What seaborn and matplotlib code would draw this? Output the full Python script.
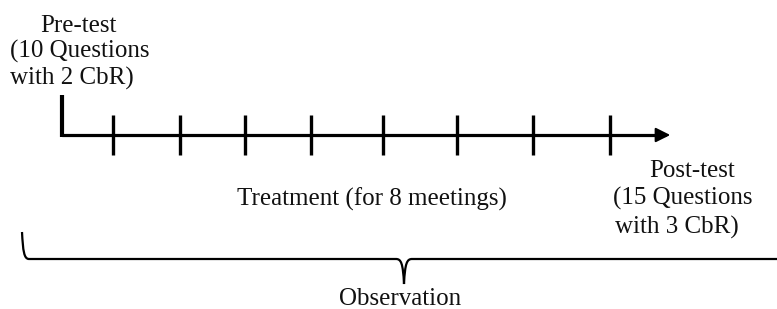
import matplotlib
matplotlib.use("Agg")
import matplotlib.pyplot as plt
import seaborn as sns
from matplotlib.path import Path
from matplotlib.patches import PathPatch

# timeline, in picture pixels (x to the right, y downwards)
timeline_start = 62
timeline_end = 673
timeline_y = 135
pretest_top = 95
meeting_x = [113, 180, 245, 311, 383, 457, 533, 610]   # 8 meetings
tick_half = 20

# labels: (text, x, baseline y, alignment)
pre_lines = [("Pre-test", 40, 32), ("(10 Questions", 10, 58), ("with 2 CbR)", 10, 85)]
post_lines = [("Post-test", 649, 177), ("(15 Questions", 613, 205), ("with 3 CbR)", 615, 234)]
treatment_label = ("Treatment (for 8 meetings)", 237, 206)
observation_label = ("Observation", 400, 305)

# brace under everything
brace_left = 22
brace_top = 232
brace_y = 259
brace_mid = 404
brace_tip = 284
brace_right = 790

sns.set_theme(style="white")
plt.rcParams['font.family'] = ['Liberation Serif', 'DejaVu Serif']

fig = plt.figure(figsize=(7.77, 3.09), dpi=100)
ax = fig.add_axes([0, 0, 1, 1])
ax.set_xlim(0, 777)
ax.set_ylim(309, 0)
ax.axis("off")

# main axis line and arrow
sns.lineplot(x=[timeline_start, timeline_end - 8], y=[timeline_y, timeline_y],
             color="black", linewidth=2.3, ax=ax, legend=False)
ax.annotate("", xy=(timeline_end, timeline_y), xytext=(timeline_end - 14, timeline_y),
            arrowprops=dict(arrowstyle="-|>", color="black", lw=1.5, mutation_scale=22))
# pre-test start marker
ax.plot([timeline_start, timeline_start], [pretest_top, timeline_y + 1.5],
        color="black", linewidth=3, solid_capstyle="butt")
# meeting ticks
ax.vlines(meeting_x, timeline_y - tick_half, timeline_y + tick_half,
          color="black", linewidth=2.4)

fs = 18
for txt, x, y in pre_lines + post_lines:
    ax.text(x, y, txt, fontsize=fs, ha="left", va="baseline", color="#111111")
ax.text(treatment_label[1], treatment_label[2], treatment_label[0], fontsize=fs,
        ha="left", va="baseline", color="#111111")
ax.text(observation_label[1], observation_label[2], observation_label[0], fontsize=fs,
        ha="center", va="baseline", color="#111111")

# brace
verts = [
    (brace_left, brace_top),
    (brace_left + 1, brace_y - 8), (brace_left + 2, brace_y), (brace_left + 7, brace_y),
    (brace_mid - 8, brace_y),
    (brace_mid - 3, brace_y), (brace_mid - 1, brace_y + 4), (brace_mid, brace_tip),
    (brace_mid + 1, brace_y + 4), (brace_mid + 3, brace_y), (brace_mid + 8, brace_y),
    (brace_right, brace_y),
]
codes = [Path.MOVETO,
         Path.CURVE4, Path.CURVE4, Path.CURVE4,
         Path.LINETO,
         Path.CURVE4, Path.CURVE4, Path.CURVE4,
         Path.CURVE4, Path.CURVE4, Path.CURVE4,
         Path.LINETO]
ax.add_patch(PathPatch(Path(verts, codes), facecolor="none", edgecolor="black", lw=1.6))

fig.savefig("out.png", dpi=100)
